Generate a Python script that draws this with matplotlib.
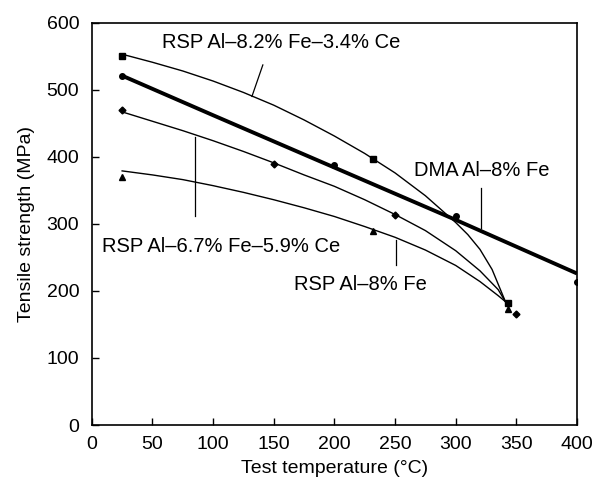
import matplotlib
matplotlib.use("Agg")
import matplotlib.pyplot as plt

plt.rcParams['font.family'] = ['Liberation Sans', 'DejaVu Sans']

# measured points (markers)
ce34_x = [25, 232, 343]
ce34_y = [550, 397, 182]
dma_x = [25, 200, 300, 400]
dma_y = [520, 388, 312, 213]
ce59_x = [25, 150, 250, 350]
ce59_y = [470, 390, 313, 165]
fe8_x = [25, 232, 343]
fe8_y = [370, 290, 173]

# traced fitted curves
ce34_cx = [25, 50, 75, 100, 125, 150, 175, 200, 225, 250, 275, 300, 310, 320, 330, 341]
ce34_cy = [553, 541, 528, 513, 496, 477, 455, 431, 405, 376, 342, 302, 284, 262, 232, 184]
dma_cx = [25, 100, 200, 300, 400]
dma_cy = [521, 462, 384, 306, 226]
ce59_cx = [25, 50, 75, 100, 125, 150, 175, 200, 225, 250, 275, 300, 320, 335, 341]
ce59_cy = [467, 453, 439, 424, 408, 391, 373, 356, 336, 314, 290, 260, 230, 202, 184]
fe8_cx = [25, 50, 75, 100, 125, 150, 175, 200, 225, 250, 275, 300, 320, 335, 341]
fe8_cy = [379, 373, 366, 357, 347, 336, 324, 311, 296, 280, 261, 238, 214, 193, 184]

fig = plt.figure(figsize=(6.08, 4.83), dpi=100)
ax = fig.add_axes([0.151, 0.120, 0.798, 0.833])

ax.plot(ce34_cx, ce34_cy, color='black', lw=1.0)
ax.plot(dma_cx, dma_cy, color='black', lw=2.8, solid_capstyle='butt')
ax.plot(ce59_cx, ce59_cy, color='black', lw=1.0)
ax.plot(fe8_cx, fe8_cy, color='black', lw=1.0)

ax.plot(ce34_x, ce34_y, 's', color='black', ms=4, ls='none')
ax.plot(dma_x, dma_y, 'o', color='black', ms=4, ls='none')
ax.plot(ce59_x, ce59_y, 'D', color='black', ms=3.5, ls='none')
ax.plot(fe8_x, fe8_y, '^', color='black', ms=4, ls='none')

# labels with leader lines
fs = 14.5
ax.text(58, 570, 'RSP Al–8.2% Fe–3.4% Ce', fontsize=fs, va='center')
ax.plot([141, 132], [537, 490], color='black', lw=0.9)

ax.text(266, 380, 'DMA Al–8% Fe', fontsize=fs, va='center')
ax.plot([321, 321], [353, 294], color='black', lw=0.9)

ax.text(8, 266, 'RSP Al–6.7% Fe–5.9% Ce', fontsize=fs, va='center')
ax.plot([85, 85], [430, 311], color='black', lw=0.9)

ax.text(167, 210, 'RSP Al–8% Fe', fontsize=fs, va='center')
ax.plot([251, 251], [276, 239], color='black', lw=0.9)

ax.set_xlim(0, 400)
ax.set_ylim(0, 600)
ax.set_xticks(range(0, 401, 50))
ax.set_yticks(range(0, 601, 100))
ax.tick_params(direction='in', length=5, width=1, labelsize=14,
               top=False, right=False)
ax.tick_params(axis='x', pad=8)
ax.tick_params(axis='y', pad=9)
for s in ax.spines.values():
    s.set_linewidth(1.2)

ax.set_xlabel('Test temperature (°C)', fontsize=14, labelpad=5)
ax.set_ylabel('Tensile strength (MPa)', fontsize=14, labelpad=8)

fig.savefig('out.png', dpi=100)
